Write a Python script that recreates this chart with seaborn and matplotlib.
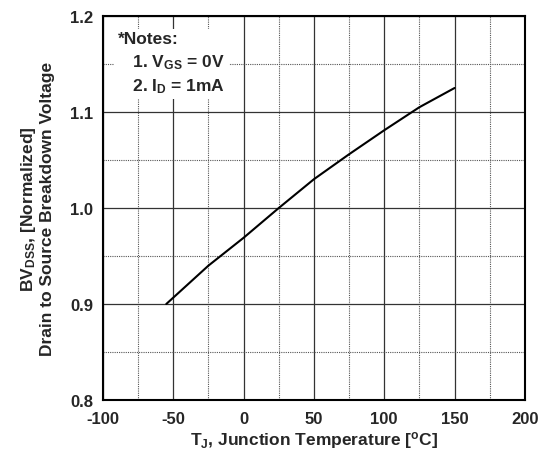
import matplotlib
matplotlib.use('Agg')
import matplotlib.pyplot as plt
import pandas as pd
import seaborn as sns
from matplotlib.ticker import MultipleLocator

# Data
temp_c = [-55, -25, 0, 25, 50, 75, 100, 125, 150]
bv_norm = [0.900, 0.940, 0.969, 1.000, 1.030, 1.056, 1.081, 1.105, 1.125]

x_ticks = [-100, -50, 0, 50, 100, 150, 200]
y_ticks = [0.8, 0.9, 1.0, 1.1, 1.2]

df = pd.DataFrame({'temp': temp_c, 'bv': bv_norm})

sns.set_style('white')
plt.rcParams['font.family'] = ['Liberation Sans', 'DejaVu Sans']
plt.rcParams['font.weight'] = 'bold'
plt.rcParams['mathtext.fontset'] = 'custom'
plt.rcParams['mathtext.rm'] = 'Liberation Sans:bold'
plt.rcParams['mathtext.bf'] = 'Liberation Sans:bold'
plt.rcParams['mathtext.default'] = 'bf'

fig = plt.figure(figsize=(5.4, 4.52), dpi=100)
ax = fig.add_axes([0.1907, 0.1128, 0.7813, 0.8496])

sns.lineplot(data=df, x='temp', y='bv', color='black', linewidth=1.5, ax=ax)

ax.set_xlim(-100, 200)
ax.set_ylim(0.8, 1.2)
ax.set_xticks(x_ticks)
ax.set_yticks(y_ticks)
ax.set_xticklabels([str(t) for t in x_ticks])
ax.set_yticklabels(['%.1f' % t for t in y_ticks])
ax.xaxis.set_minor_locator(MultipleLocator(25))
ax.yaxis.set_minor_locator(MultipleLocator(0.05))

ax.grid(True, which='major', color='#333333', linestyle='-', linewidth=0.9)
ax.grid(True, which='minor', color='#555555', linestyle=(0, (1, 1)), linewidth=0.8)
ax.set_axisbelow(True)
ax.tick_params(which='both', length=0, labelsize=12)
ax.tick_params(axis='x', pad=8)
ax.tick_params(axis='y', pad=7)
for lab in ax.get_xticklabels() + ax.get_yticklabels():
    lab.set_fontweight('bold')

for s in ax.spines.values():
    s.set_color('black')
    s.set_linewidth(1.5)

ax.set_xlabel(r'T$_J$, Junction Temperature [$^o$C]', fontsize=12.5, fontweight='bold', labelpad=2)
ax.set_ylabel('BV$_{DSS}$, [Normalized]\nDrain to Source Breakdown Voltage',
              fontsize=12.5, fontweight='bold', labelpad=11, linespacing=1.15)

ax.text(-89.5, 1.184, '*Notes:\n   1. V$_{GS}$ = 0V\n   2. I$_D$ = 1mA', fontsize=12.5,
        fontweight='bold', va='top', ha='left', linespacing=1.4,
        bbox=dict(facecolor='white', edgecolor='none', pad=3), zorder=3)

fig.savefig('out.png', dpi=100)
